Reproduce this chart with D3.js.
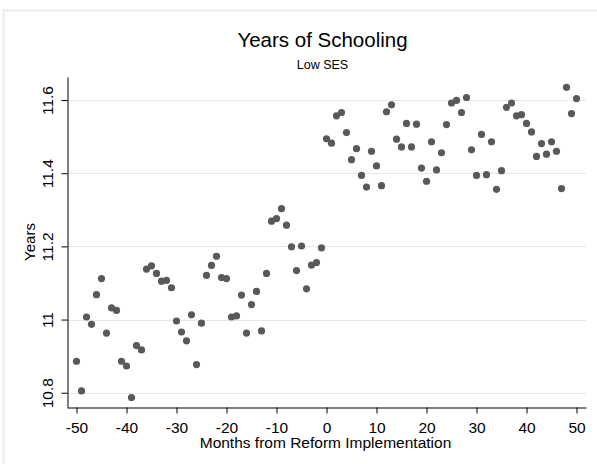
<!DOCTYPE html>
<html>
<head>
<meta charset="utf-8">
<script src="https://cdn.jsdelivr.net/npm/d3@7"></script>
<style>
  body { margin: 0; background: #fff; }
  text { font-family: "Liberation Sans", Arial, Helvetica, sans-serif; fill: #000; }
</style>
</head>
<body>
<div id="chart"></div>
<script>
// months relative to the reform
var months = [-50,-49,-48,-47,-46,-45,-44,-43,-42,-41,-40,-39,-38,-37,-36,-35,-34,-33,-32,-31,
  -30,-29,-28,-27,-26,-25,-24,-23,-22,-21,-20,-19,-18,-17,-16,-15,-14,-13,-12,-11,
  -10,-9,-8,-7,-6,-5,-4,-3,-2,-1,0,1,2,3,4,5,6,7,8,9,10,11,12,13,14,15,16,17,18,19,
  20,21,22,23,24,25,26,27,28,29,30,31,32,33,34,35,36,37,38,39,40,41,42,43,44,45,46,47,48,49,50];

// mean years of schooling, low SES
var years = [10.886,10.805,11.007,10.987,11.068,11.112,10.963,11.032,11.025,10.886,
  10.873,10.787,10.929,10.917,11.138,11.147,11.126,11.105,11.107,11.087,
  10.996,10.966,10.942,11.013,10.877,10.990,11.121,11.148,11.173,11.115,
  11.112,11.007,11.010,11.067,10.963,11.041,11.077,10.969,11.126,11.269,
  11.276,11.303,11.258,11.199,11.134,11.201,11.084,11.149,11.156,11.196,
  11.494,11.482,11.557,11.566,11.511,11.437,11.467,11.394,11.362,11.460,
  11.420,11.366,11.568,11.587,11.493,11.472,11.536,11.472,11.534,11.414,
  11.378,11.486,11.409,11.456,11.533,11.592,11.599,11.566,11.607,11.464,
  11.394,11.506,11.396,11.486,11.356,11.407,11.580,11.592,11.557,11.560,
  11.536,11.513,11.446,11.481,11.452,11.486,11.460,11.358,11.635,11.563,11.604];

var xTicks = [-50,-40,-30,-20,-10,0,10,20,30,40,50];
var yTicks = [10.8,11,11.2,11.4,11.6];

var W = 597, H = 464;
var pLeft = 67, pRight = 586, pTop = 77, pBottom = 407;

var svg = d3.select("#chart")
    .append("svg")
    .attr("width", W)
    .attr("height", H);

// outer graph region border
svg.append("rect")
  .attr("x", 3.5).attr("y", 10.5)
  .attr("width", 620).attr("height", 480)
  .attr("fill", "none")
  .attr("stroke", "#ececec")
  .attr("stroke-width", 2);

var x = d3.scaleLinear().domain([-51.9, 51.9]).range([pLeft, pRight]);
var y = d3.scaleLinear().domain([10.761, 11.663]).range([pBottom, pTop]);

// gridlines
svg.append("g")
  .selectAll("line")
  .data(yTicks)
  .join("line")
  .attr("x1", pLeft).attr("x2", pRight)
  .attr("y1", function(d){ return Math.round(y(d)) + 0.5; })
  .attr("y2", function(d){ return Math.round(y(d)) + 0.5; })
  .attr("stroke", "#e6e6e6")
  .attr("stroke-width", 1);

// x axis
var gx = svg.append("g")
  .attr("transform", "translate(0," + (pBottom + 0.5) + ")")
  .call(d3.axisBottom(x).tickValues(xTicks).tickSize(6).tickSizeOuter(0)
    .tickFormat(function(d){ return String(d); }));
gx.select(".domain").attr("stroke", "#000");
gx.selectAll(".tick line").attr("stroke", "#000");
gx.selectAll(".tick text")
  .attr("y", 25).attr("dy", 0)
  .style("font-size", "15.5px")
  .style("font-family", "'Liberation Sans', Arial, sans-serif");

// y axis
var gy = svg.append("g")
  .attr("transform", "translate(" + (pLeft + 0.5) + ",0)")
  .call(d3.axisLeft(y).tickValues(yTicks).tickSize(6).tickSizeOuter(0)
    .tickFormat(function(d){ return String(d); }));
gy.select(".domain").attr("stroke", "#000");
gy.selectAll(".tick line").attr("stroke", "#000");
gy.selectAll(".tick text")
  .attr("transform", "rotate(-90)")
  .attr("x", 0).attr("y", -15).attr("dy", 0)
  .attr("text-anchor", "middle")
  .style("font-size", "15.5px")
  .style("font-family", "'Liberation Sans', Arial, sans-serif");

// points
svg.append("g")
  .selectAll("circle")
  .data(months)
  .join("circle")
  .attr("cx", function(d){ return x(d); })
  .attr("cy", function(d, i){ return y(years[i]); })
  .attr("r", 3.6)
  .attr("fill", "#595959");

// titles
var cx = (pLeft + pRight) / 2;
svg.append("text")
  .attr("x", cx - 4).attr("y", 47)
  .attr("text-anchor", "middle")
  .style("font-size", "20.5px")
  .text("Years of Schooling");

svg.append("text")
  .attr("x", cx - 4).attr("y", 69)
  .attr("text-anchor", "middle")
  .style("font-size", "12.5px")
  .text("Low SES");

svg.append("text")
  .attr("x", cx - 1).attr("y", 447.5)
  .attr("text-anchor", "middle")
  .style("font-size", "15.5px")
  .text("Months from Reform Implementation");

svg.append("text")
  .attr("transform", "translate(35," + ((pTop + pBottom) / 2) + ") rotate(-90)")
  .attr("text-anchor", "middle")
  .style("font-size", "15px")
  .text("Years");
</script>
</body>
</html>
